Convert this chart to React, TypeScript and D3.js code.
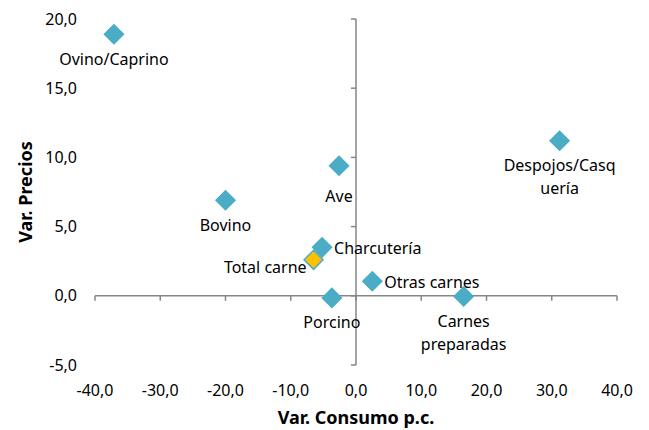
import { scaleLinear, range } from 'd3';

const width = 649;
const height = 430;

const names = [
	'Ovino/Caprino',
	'Bovino',
	'Ave',
	'Charcutería',
	'Total carne',
	'Porcino',
	'Otras carnes',
	'Carnes preparadas',
	'Despojos/Casquería',
];
const consumo = [-37.1, -20.0, -2.6, -5.2, -6.5, -3.7, 2.5, 16.5, 31.2];
const precios = [18.9, 6.9, 9.4, 3.5, 2.6, -0.15, 1.05, -0.05, 11.2];
const labelLines = [
	['Ovino/Caprino'],
	['Bovino'],
	['Ave'],
	['Charcutería'],
	['Total carne'],
	['Porcino'],
	['Otras carnes'],
	['Carnes', 'preparadas'],
	['Despojos/Casq', 'uería'],
];
const labelPos = ['below', 'below', 'below', 'right', 'left', 'below', 'right', 'below', 'below'];
const xTicks = range(-40, 41, 10);
const yTicks = range(-5, 21, 5);

const fmt = (v: number) => v.toFixed(1).replace('.', ',');
const axisColor = '#868686';
const markerColor = '#4BACC6';
const font = '"Noto Sans", sans-serif';

const Diamond = ({ cx, cy, fill }: { cx: number; cy: number; fill: string }) => {
	const r = 9.5;
	return (
		<path
			d={`M${cx},${cy - r}L${cx + r},${cy}L${cx},${cy + r}L${cx - r},${cy}Z`}
			fill={fill}
			stroke={markerColor}
			strokeWidth={1.5}
		/>
	);
};

const App = () => {
	const xScale = scaleLinear().domain([-40, 40]).range([95, 617]);
	const yScale = scaleLinear().domain([-5, 20]).range([365, 19]);
	const x0 = xScale(0);
	const y0 = yScale(0);

	return (
		<svg
			width={width}
			height={height}
			style={{ position: 'absolute', left: 0, top: 0, background: '#fff' }}
			fontFamily={font}
		>
			{/* horizontal axis at y = 0 */}
			<line x1={xScale(-40)} x2={xScale(40)} y1={y0} y2={y0} stroke={axisColor} strokeWidth={1.5} />
			{xTicks.map(t => (
				<line key={t} x1={xScale(t)} x2={xScale(t)} y1={y0} y2={y0 + 5} stroke={axisColor} strokeWidth={1.5} />
			))}
			{/* vertical axis at x = 0 */}
			<line x1={x0} x2={x0} y1={yScale(20)} y2={yScale(-5)} stroke={axisColor} strokeWidth={1.5} />
			{yTicks.map(t => (
				<line key={t} x1={x0 - 5} x2={x0} y1={yScale(t)} y2={yScale(t)} stroke={axisColor} strokeWidth={1.5} />
			))}

			{/* tick labels */}
			{yTicks.map(t => (
				<text key={t} x={77} y={yScale(t)} dy="0.35em" textAnchor="end" fontSize={16} fill="#000">
					{fmt(t)}
				</text>
			))}
			{xTicks.map(t => (
				<text key={t} x={xScale(t)} y={390} dy="0.35em" textAnchor="middle" fontSize={16} fill="#000">
					{fmt(t)}
				</text>
			))}

			{/* axis titles */}
			<text x={356} y={424} textAnchor="middle" fontSize={18} fontWeight="bold" fill="#000">
				Var. Consumo p.c.
			</text>
			<text
				transform={`translate(26,${(yScale(20) + yScale(-5)) / 2}) rotate(-90)`}
				dy="0.35em"
				textAnchor="middle"
				fontSize={18}
				fontWeight="bold"
				fill="#000"
			>
				Var. Precios
			</text>

			{/* markers */}
			{names.map((n, i) => (
				<Diamond
					key={n}
					cx={xScale(consumo[i])}
					cy={yScale(precios[i])}
					fill={n === 'Total carne' ? '#FFC000' : markerColor}
				/>
			))}

			{/* data labels */}
			{names.map((n, i) => {
				const cx = xScale(consumo[i]);
				const cy = yScale(precios[i]);
				const pos = labelPos[i];
				const lines = labelLines[i];
				let x = cx;
				let y = cy + (n === 'Ave' ? 31 : 25);
				let anchor = 'middle';
				if (pos === 'right') {
					x = cx + 12;
					y = cy + 1;
					anchor = 'start';
				} else if (pos === 'left') {
					x = cx - 7;
					y = cy + 7.5;
					anchor = 'end';
				}
				return (
					<text key={n} x={x} y={y} textAnchor={anchor} fontSize={16} fill="#000">
						{lines.map((l, j) => (
							<tspan key={j} x={x} dy={j === 0 ? '0.35em' : 23}>
								{l}
							</tspan>
						))}
					</text>
				);
			})}
		</svg>
	);
};

export default App;
